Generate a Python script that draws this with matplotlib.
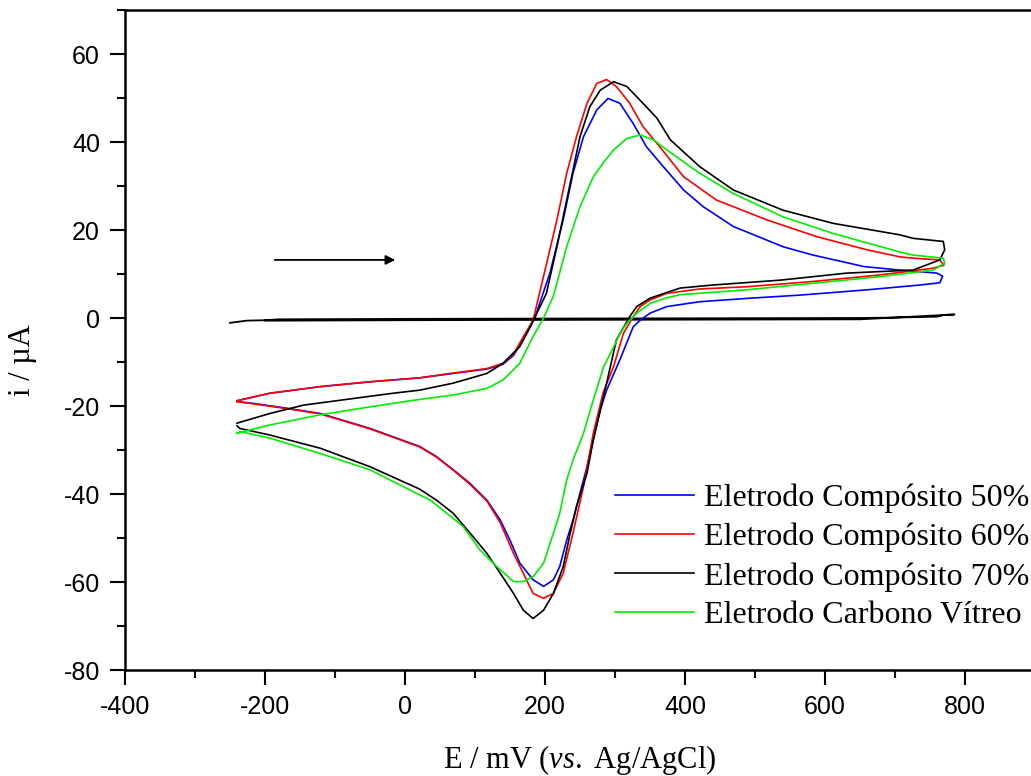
import matplotlib
matplotlib.use('Agg')
import matplotlib.pyplot as plt
from matplotlib.ticker import MultipleLocator

plt.rcParams['axes.unicode_minus'] = False
plt.rcParams['mathtext.fontset'] = 'custom'
plt.rcParams['mathtext.rm'] = 'Liberation Serif'
plt.rcParams['mathtext.it'] = 'Liberation Serif:italic'

# Cyclic voltammograms (E in mV, i in uA)
# each list runs forward from -240 mV to 760 mV and back again
e_50 = [-240, -193, -121, -50, 21, 69, 117, 140, 155, 170, 186, 207, 226, 240, 255, 274, 290,
        307, 326, 345, 369, 398, 426, 469, 540, 583, 636, 655, 707, 760, 768,
        764, 736, 660, 564, 493, 421, 374, 350, 336, 326, 307, 288, 279, 269, 260, 250,
        240, 231, 221, 212, 198, 183, 164, 150, 136, 117, 93, 69, 45, 21, -50, -121,
        -169, -217, -240]
i_50 = [-18.8, -17.1, -15.6, -14.5, -13.6, -12.6, -11.6, -10.5, -8.5, -4.5, 0.3, 10.2, 22.3,
        32.9, 41.2, 47.3, 49.9, 48.8, 44.2, 38.9, 34.4, 29.1, 25.3, 20.8, 16.2, 14.3, 12.4,
        11.7, 10.9, 10.2, 9.5,
        8.0, 7.5, 6.4, 5.2, 4.5, 3.7, 2.6, 1.1, -0.5, -2.0, -9.5, -16.4, -20.9, -27.7, -33.8,
        -39.8, -45.9, -50.5, -56.5, -59.5, -61.0, -59.5, -55.7, -50.5, -45.9, -41.4, -37.6,
        -34.5, -31.5, -29.2, -25.1, -21.7, -20.5, -19.4, -19.0]

e_60 = [-240, -193, -121, -50, 21, 69, 117, 140, 155, 170, 183, 199, 217, 231, 245, 260, 274,
        288, 302, 321, 340, 364, 398, 445, 517, 588, 660, 707, 726, 764, 770,
        754, 679, 583, 488, 421, 393, 374, 350, 336, 326, 312, 298, 283, 269, 255, 240, 226,
        212, 198, 183, 169, 155, 136, 117, 93, 69, 45, 21, -50, -121, -169, -217, -240]
i_60 = [-18.8, -17.1, -15.6, -14.5, -13.6, -12.5, -11.5, -10.3, -8.2, -4.0, -0.5, 10.2, 22.3,
        32.9, 41.2, 48.8, 53.3, 54.2, 52.6, 48.8, 43.5, 38.9, 32.1, 26.8, 22.3, 18.5, 15.5,
        13.9, 13.6, 13.2, 12.0,
        11.3, 9.8, 8.3, 7.1, 6.6, 6.0, 5.6, 4.1, 2.6, 0.3, -3.5, -11.0, -17.0, -26.2, -38.3,
        -48.9, -58.0, -62.6, -63.7, -62.6, -58.0, -53.5, -46.5, -41.6, -37.8, -34.6, -31.6,
        -29.3, -25.2, -21.8, -20.6, -19.5, -19.0]

e_70 = [-240, -193, -145, -74, -17, 21, 69, 117, 140, 164, 179, 186, 202, 217, 231, 240, 250,
        264, 279, 298, 317, 340, 360, 379, 421, 469, 540, 612, 707, 726, 769, 771, 764,
        726, 631, 536, 440, 393, 374, 350, 331, 321, 302, 288, 279, 269, 260, 245, 236, 226,
        212, 198, 183, 169, 155, 136, 117, 93, 69, 45, 21, -50, -121, -193, -236, -240]
i_70 = [-23.9, -21.7, -19.8, -18.3, -17.1, -16.4, -14.8, -12.6, -10.3, -6.5, -2.0, 0.3, 5.6,
        16.2, 26.8, 33.6, 41.2, 48.0, 51.8, 53.7, 52.6, 48.8, 45.4, 40.5, 34.4, 29.1, 24.5,
        21.5, 18.9, 18.1, 17.4, 15.5, 13.2,
        10.9, 10.2, 8.6, 7.5, 6.8, 5.8, 4.5, 2.6, 0.3, -5.0, -14.8, -20.9, -27.7, -35.3,
        -42.9, -48.9, -56.5, -62.6, -66.4, -68.3, -66.4, -62.6, -58.0, -53.5, -48.9, -44.4,
        -41.4, -38.9, -33.8, -29.6, -26.6, -25.1, -24.5]

e_gc = [-240, -193, -121, -50, 21, 69, 117, 140, 164, 183, 198, 212, 231, 250, 269, 283, 298,
        317, 336, 355, 374, 421, 469, 540, 612, 707, 726, 769, 771,
        755, 679, 583, 488, 393, 374, 350, 331, 317, 307, 300, 284, 269, 255, 240, 231, 221,
        212, 198, 183, 169, 155, 131, 107, 83, 60, 36, 21, -50, -121, -193, -236, -240]
i_gc = [-26.2, -24.3, -22.0, -20.2, -18.5, -17.5, -16.0, -14.1, -10.3, -4.2, 0.0, 5.0, 16.2,
        25.3, 32.1, 35.2, 38.2, 40.8, 41.6, 40.5, 38.2, 32.9, 28.3, 23.0, 19.2, 15.0, 14.3,
        13.6, 12.5,
        10.9, 9.4, 7.9, 6.4, 5.3, 4.6, 3.3, 1.1, -1.2, -3.5, -6.0, -11.0, -18.6, -26.2, -32.3,
        -36.8, -44.4, -48.9, -55.7, -58.8, -59.9, -59.9, -56.5, -52.7, -47.4, -44.4, -41.4,
        -40.2, -34.5, -30.8, -27.3, -25.8, -26.2]

# blank scan lying on the zero line
e_blank = [-250, -226, -200, -180, 0, 300, 650, 700, 760, 770, 785,
           650, 300, 0, -180, -200]
i_blank = [-1.1, -0.6, -0.5, -0.3, -0.2, -0.1, 0.0, 0.1, 0.3, 0.7, 0.8,
           -0.3, -0.4, -0.5, -0.6, -0.6]

labels = ['Eletrodo Compósito 50%', 'Eletrodo Compósito 60%',
          'Eletrodo Compósito 70%', 'Eletrodo Carbono Vítreo']
colors = ['#0000ff', '#ff0000', '#000000', '#00ee00']

fig = plt.figure(figsize=(10.31, 7.76), dpi=100)
ax = fig.add_axes([125 / 1031, 106 / 776, 910 / 1031, 660 / 776])

ax.plot(e_blank, i_blank, color='black', lw=1.3)
for e, i, lab, c in zip([e_50, e_60, e_70, e_gc], [i_50, i_60, i_70, i_gc], labels, colors):
    ax.plot(e, i, color=c, lw=1.2, label=lab)

# scan direction arrow
ax.annotate('', xy=(-10, 13.2), xytext=(-190, 13.2),
            arrowprops=dict(arrowstyle='-|>', color='black', lw=1.3, mutation_scale=14))

ax.set_xlim(-400, 900)
ax.set_ylim(-80, 70)
ax.xaxis.set_major_locator(MultipleLocator(200))
ax.xaxis.set_minor_locator(MultipleLocator(100))
ax.yaxis.set_major_locator(MultipleLocator(20))
ax.yaxis.set_minor_locator(MultipleLocator(10))
ax.tick_params(which='major', direction='out', length=11, width=1.5, pad=7,
               labelsize=18, top=False, right=False)
ax.tick_params(which='minor', direction='out', length=6, width=1.5, top=False, right=False)
for lab in ax.get_xticklabels() + ax.get_yticklabels():
    lab.set_family('Liberation Sans')
for s in ax.spines.values():
    s.set_linewidth(1.8)

ax.set_xlabel(r'E / mV ($\mathit{vs.}$ Ag/AgCl)', family='Liberation Serif', fontsize=22)
ax.xaxis.set_label_coords(0.5, -0.11)
ax.set_ylabel('i / µA', family='Liberation Serif', fontsize=22)
ax.yaxis.set_label_coords(-0.097, 0.47)

ax.legend(loc='upper left', bbox_to_anchor=(0.538, 0.282), frameon=False,
          prop={'family': 'Liberation Serif', 'size': 23}, handlelength=2.5,
          handletextpad=0.31, labelspacing=0.3, borderpad=0, borderaxespad=0)

fig.savefig('out.png', dpi=100)
